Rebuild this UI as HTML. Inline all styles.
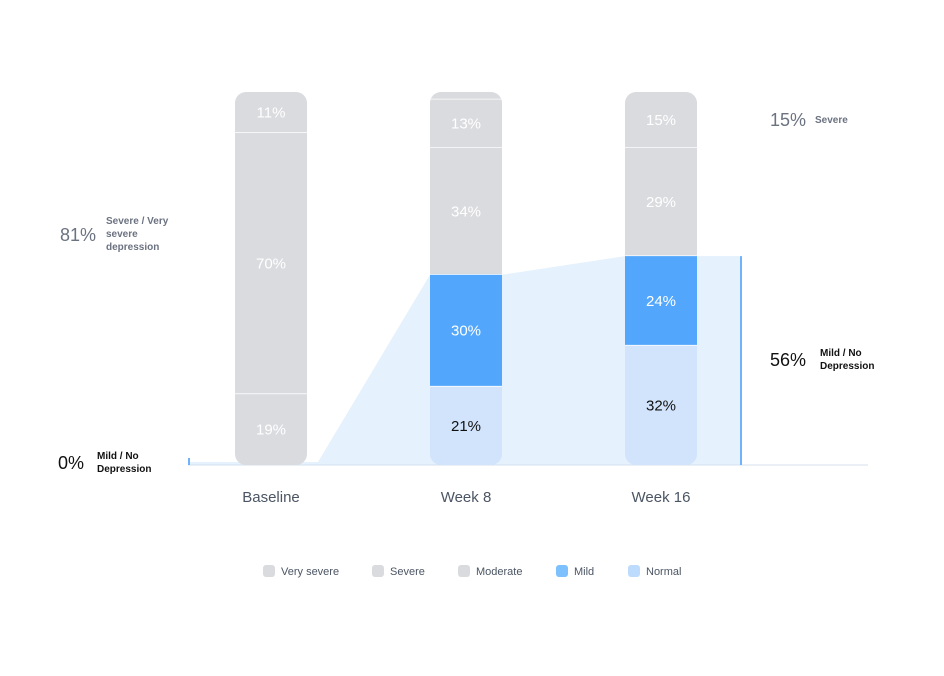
<!DOCTYPE html>
<html><head><meta charset="utf-8"><style>
body{margin:0;background:#fff;font-family:"Liberation Sans",sans-serif;}
svg text{font-family:"Liberation Sans",sans-serif;}
</style></head><body>
<svg width="944" height="671" id="chart">
<g id="area"></g><g id="bars"></g><g id="annot"></g><g id="legend"></g>
</svg>
<script>
const categories=["Baseline","Week 8","Week 16"];
const verySevere=[11,2,0];
const severe=[70,13,15];
const moderate=[19,34,29];
const mild=[0,30,24];
const normal=[0,21,32];
const shownLabels=[["11%","70%","19%"],["","13%","34%","30%","21%"],["","15%","29%","24%","32%"]];
const seriesNames=["Very severe","Severe","Moderate","Mild","Normal"];
const colors=["#dadbdf","#dadbdf","#dadbdf","#52a7fd","#d1e4fb"];
const legendColors=["#dadbdf","#dadbdf","#dadbdf","#7cc0fd","#bddcfd"];
const NS="http://www.w3.org/2000/svg";
const y0=465,plotH=373,barW=72;
const xc=[271,466,661];
const y=v=>y0-v/100*plotH;
function mk(t,a,p){const e=document.createElementNS(NS,t);for(const k in a)e.setAttribute(k,a[k]);p.appendChild(e);return e;}
const series=[verySevere,severe,moderate,mild,normal];
// area (mild+normal)
const good=categories.map((c,i)=>mild[i]+normal[i]);
const area=document.getElementById('area');
let pts=`188,${y0} 188,${y(good[0])-3} 318,${y(good[0])-3} `;
for(let i=1;i<categories.length;i++){pts+=`${xc[i]-barW/2},${y(good[i])} ${xc[i]+barW/2},${y(good[i])} `;}
pts+=`741,${y(good[2])} 741,${y0}`;
const poly=mk('polygon',{points:pts,fill:"#e5f1fd"},area);


const ax=mk('line',{x1:188,x2:868,y1:y0,y2:y0,stroke:"#d5e0ee","stroke-width":1},area);


const vl=mk('line',{x1:741,x2:741,y1:y(good[2]),y2:y0,stroke:"#6fb4fb","stroke-width":2},area);


const vl0=mk('line',{x1:189,x2:189,y1:y0-7,y2:y0,stroke:"#6fb4fb","stroke-width":2},area);


// bars
const bars=document.getElementById('bars');
categories.forEach((c,i)=>{
  const g=mk('g',{},bars);
  
  
  const cid='clip'+i;
  const cp=mk('clipPath',{id:cid},g);
  mk('rect',{x:xc[i]-barW/2,y:y(100),width:barW,height:plotH,rx:11},cp);
  const inner=mk('g',{'clip-path':`url(#${cid})`},g);
  let acc=100;
  series.forEach((s,k)=>{
    const v=s[i]; if(!v)return;
    const top=y(acc),bot=y(acc-v);acc-=v;
    const r=mk('rect',{x:xc[i]-barW/2,y:top,width:barW,height:bot-top,fill:colors[k]},inner);
    
    
    if(acc>0){const ln=mk('line',{x1:xc[i]-barW/2,x2:xc[i]+barW/2,y1:bot,y2:bot,stroke:"#fff","stroke-width":1.5},inner);}
    const lab=(shownLabels[i].length===3)?shownLabels[i][k]:shownLabels[i][k];
    if(lab){const t=mk('text',{x:xc[i],y:(top+bot)/2+5,'text-anchor':'middle','font-size':15,fill:k===4?"#111":"#fff"},inner);t.textContent=lab;
      
      }
  });
  const xl=mk('text',{x:xc[i],y:502,'text-anchor':'middle','font-size':15,fill:"#4b5563"},g);
  xl.textContent=c;
  
  
});
// legend
const lg=document.getElementById('legend');
const lx=[263,372,458,556,628];
seriesNames.forEach((n,k)=>{
  const g=mk('g',{},lg);
  
  
  mk('rect',{x:lx[k],y:565,width:12,height:12,rx:3,fill:legendColors[k]},g);
  const t=mk('text',{x:lx[k]+18,y:575,'font-size':11,fill:"#4b5563"},g);t.textContent=n;
});
</script>
<g>
</g>
<script>
const an=document.getElementById('annot');
function T(x,yy,s,sz,col,bold,nm){const t=document.createElementNS(NS,'text');t.setAttribute('x',x);t.setAttribute('y',yy);t.setAttribute('font-size',sz);t.setAttribute('fill',col);if(bold)t.setAttribute('font-weight','bold');t.textContent=s;


an.appendChild(t);}
T(60,241,"81%",18,"#6b7280",false,'baseline-severe-percent');
T(106,224,"Severe / Very",10,"#6b7280",true,'baseline-severe-label');
T(106,237,"severe",10,"#6b7280",true,'baseline-severe-label');
T(106,250,"depression",10,"#6b7280",true,'baseline-severe-label');
T(58,469,"0%",18,"#111",false,'baseline-mild-percent');
T(97,459,"Mild / No",10,"#111",true,'baseline-mild-label');
T(97,472,"Depression",10,"#111",true,'baseline-mild-label');
T(770,126,"15%",18,"#6b7280",false,'week16-severe-percent');
T(815,123,"Severe",10,"#6b7280",true,'week16-severe-label');
T(770,366,"56%",18,"#111",false,'week16-mild-percent');
T(820,356,"Mild / No",10,"#111",true,'week16-mild-label');
T(820,369,"Depression",10,"#111",true,'week16-mild-label');
</script>
</svg>
</body></html>
